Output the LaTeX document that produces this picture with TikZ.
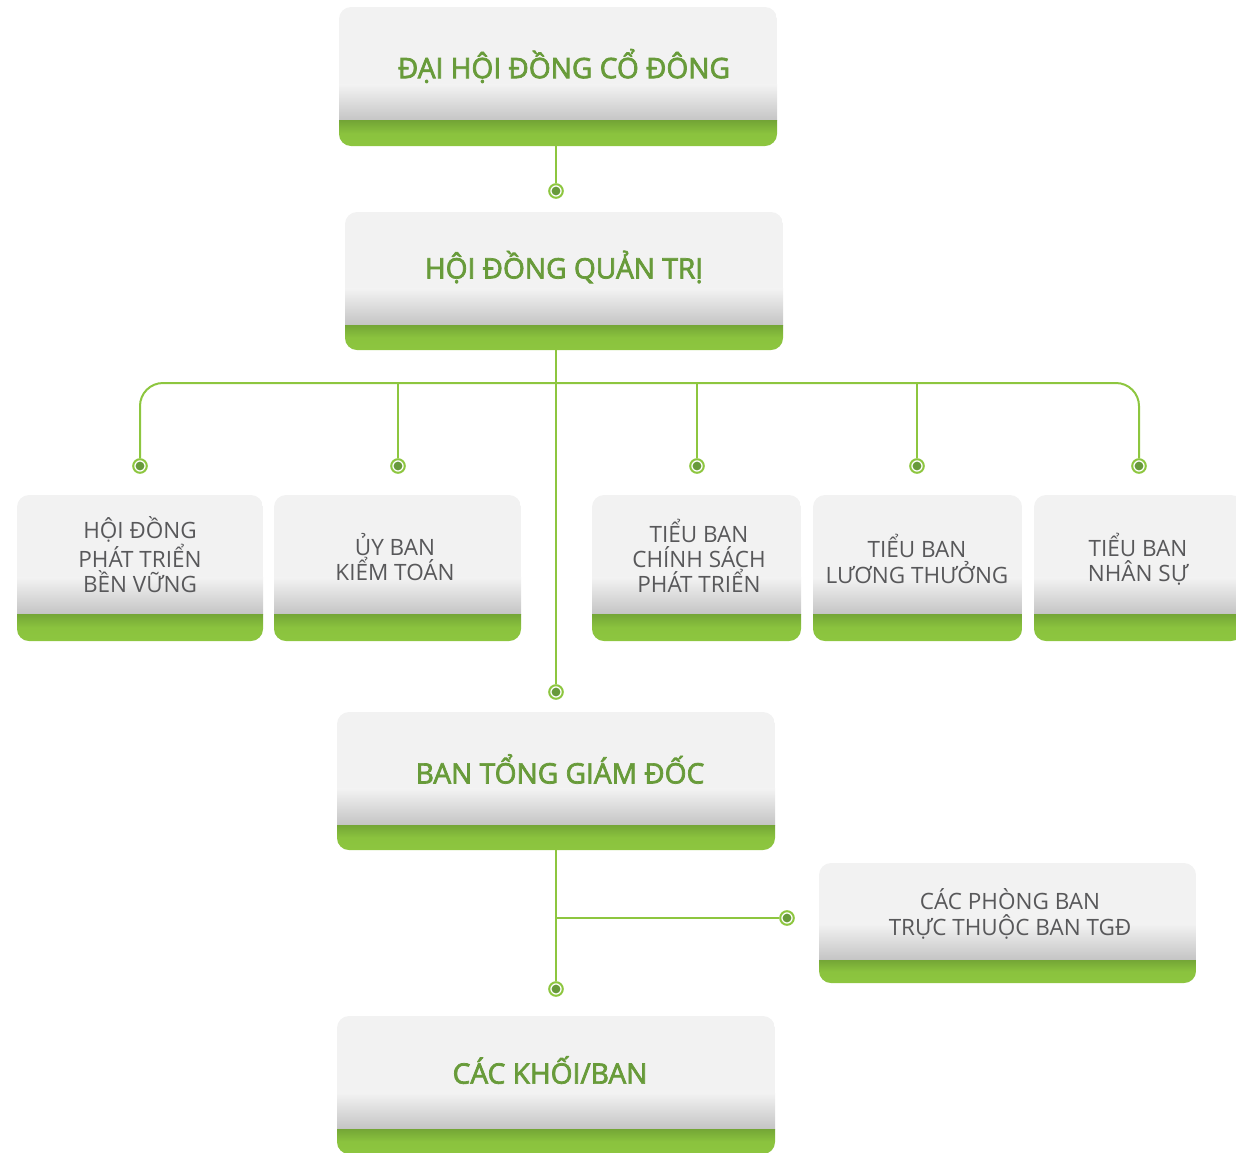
\documentclass[tikz,border=0pt]{standalone}
\usepackage{fontspec}
\setmainfont{Open Sans}[AutoFakeBold=2.6]
\usepackage{tikz}
\usetikzlibrary{calc,positioning}
\usepackage{xcolor}
\definecolor{linegreen}{RGB}{141,198,63}
\definecolor{dotgreen}{RGB}{104,154,59}
\definecolor{titlegreen}{RGB}{104,155,58}
\definecolor{textgray}{RGB}{88,88,90}
\definecolor{boxgray}{RGB}{242,242,242}
\definecolor{shadegray}{RGB}{196,196,196}
\definecolor{bandtop}{RGB}{116,166,54}

\tikzset{
    band/.store in=\bandh, band=0.625cm,
    orgbox/.style 2 args={minimum width=#1*0.025cm, minimum height=#2*0.025cm, inner sep=0pt, rounded corners=0.3cm,
        path picture={
            \fill[boxgray, sharp corners] (path picture bounding box.south west) rectangle (path picture bounding box.north east);
            \shade[top color=boxgray, bottom color=shadegray, sharp corners] ([yshift=\bandh]path picture bounding box.south west) rectangle ([yshift=\bandh+0.9cm]path picture bounding box.south east);
            \shade[top color=bandtop, bottom color=linegreen, middle color=linegreen!90!bandtop, sharp corners] (path picture bounding box.south west) rectangle ([yshift=\bandh]path picture bounding box.south east);
        }},
    title/.style={text=titlegreen, font=\bfseries\fontsize{20}{24}\selectfont, inner sep=0pt},
    subtitle/.style={text=textgray, font=\fontsize{16}{18}\selectfont, align=center, inner sep=0pt},
    link/.style={draw=linegreen, line width=0.05cm},
    joint/.style={circle, draw=linegreen, line width=0.05cm, fill=white, minimum size=0.34cm, inner sep=0pt,
        path picture={\fill[dotgreen] (path picture bounding box.center) circle (0.11cm);}}
}

\begin{document}
\begin{tikzpicture}[x=0.025cm, y=-0.025cm]
        \useasboundingbox (0,0) rectangle (1236,1152);
        \clip (0,0) rectangle (1236,1152);

        % boxes
        \node (dhdcd) [orgbox={438}{139}] at (558,76.5) {};
        \node (hdqt) [orgbox={438}{138}] at (564,281) {};
        \node (hdptbv) [orgbox={246}{146}, band=0.675cm] at (140,568) {};
        \node (ubkt) [orgbox={247}{146}, band=0.675cm] at (397.5,568) {};
        \node (tbcs) [orgbox={209}{146}, band=0.675cm] at (696.5,568) {};
        \node (tblt) [orgbox={209}{146}, band=0.675cm] at (917.5,568) {};
        \node (tbns) [orgbox={209}{146}, band=0.675cm] at (1138.5,568) {};
        \node (btgd) [orgbox={438}{138}] at (556,781) {};
        \node (cpb) [orgbox={377}{120}, band=0.575cm] at (1007.5,923) {};
        \node (ckb) [orgbox={438}{138}] at (556,1085) {};

        % texts
        \node (dhdcd-t) [title] at (564,66) {ĐẠI HỘI ĐỒNG CỔ ĐÔNG};
        \node (hdqt-t) [title] at (564,267) {HỘI ĐỒNG QUẢN TRỊ};
        \node (hdptbv-t) [subtitle] at (140,555) {HỘI ĐỒNG\\PHÁT TRIỂN\\BỀN VỮNG};
        \node (ubkt-t) [subtitle] at (395,557) {ỦY BAN\\KIỂM TOÁN};
        \node (tbcs-t) [subtitle] at (699,556) {TIỂU BAN\\CHÍNH SÁCH\\PHÁT TRIỂN};
        \node (tblt-t) [subtitle] at (917,559) {TIỂU BAN\\LƯƠNG THƯỞNG};
        \node (tbns-t) [subtitle] at (1138,559) {TIỂU BAN\\NHÂN SỰ};
        \node (btgd-t) [title] at (560,769) {BAN TỔNG GIÁM ĐỐC};
        \node (cpb-t) [subtitle] at (1010,914) {CÁC PHÒNG BAN\\TRỰC THUỘC BAN TGĐ};
        \node (ckb-t) [title] at (550,1070) {CÁC KHỐI/BAN};

        % joints
        \node (j1) [joint] at (556,191) {};
        \node (j2) [joint] at (556,692) {};
        \node (j3) [joint] at (140,466) {};
        \node (j4) [joint] at (398,466) {};
        \node (j5) [joint] at (697,466) {};
        \node (j6) [joint] at (917,466) {};
        \node (j7) [joint] at (1139,466) {};
        \node (j8) [joint] at (787,918) {};
        \node (j9) [joint] at (556,989) {};
        \coordinate (bus) at (556,383);

        % connectors
        \draw[link] (j1 |- dhdcd.south) -- (j1.north);
        \draw[link] (j2 |- hdqt.south) -- (j2.north);
        \draw[link, rounded corners=0.575cm] (j3.north) |- (bus) -| (j7.north);
        \draw[link] (j4 |- bus) -- (j4.north);
        \draw[link] (j5 |- bus) -- (j5.north);
        \draw[link] (j6 |- bus) -- (j6.north);
        \draw[link] (j9 |- btgd.south) -- (j9.north);
        \draw[link] (j9 |- j8) -- (j8.west);
\end{tikzpicture}
\end{document}
